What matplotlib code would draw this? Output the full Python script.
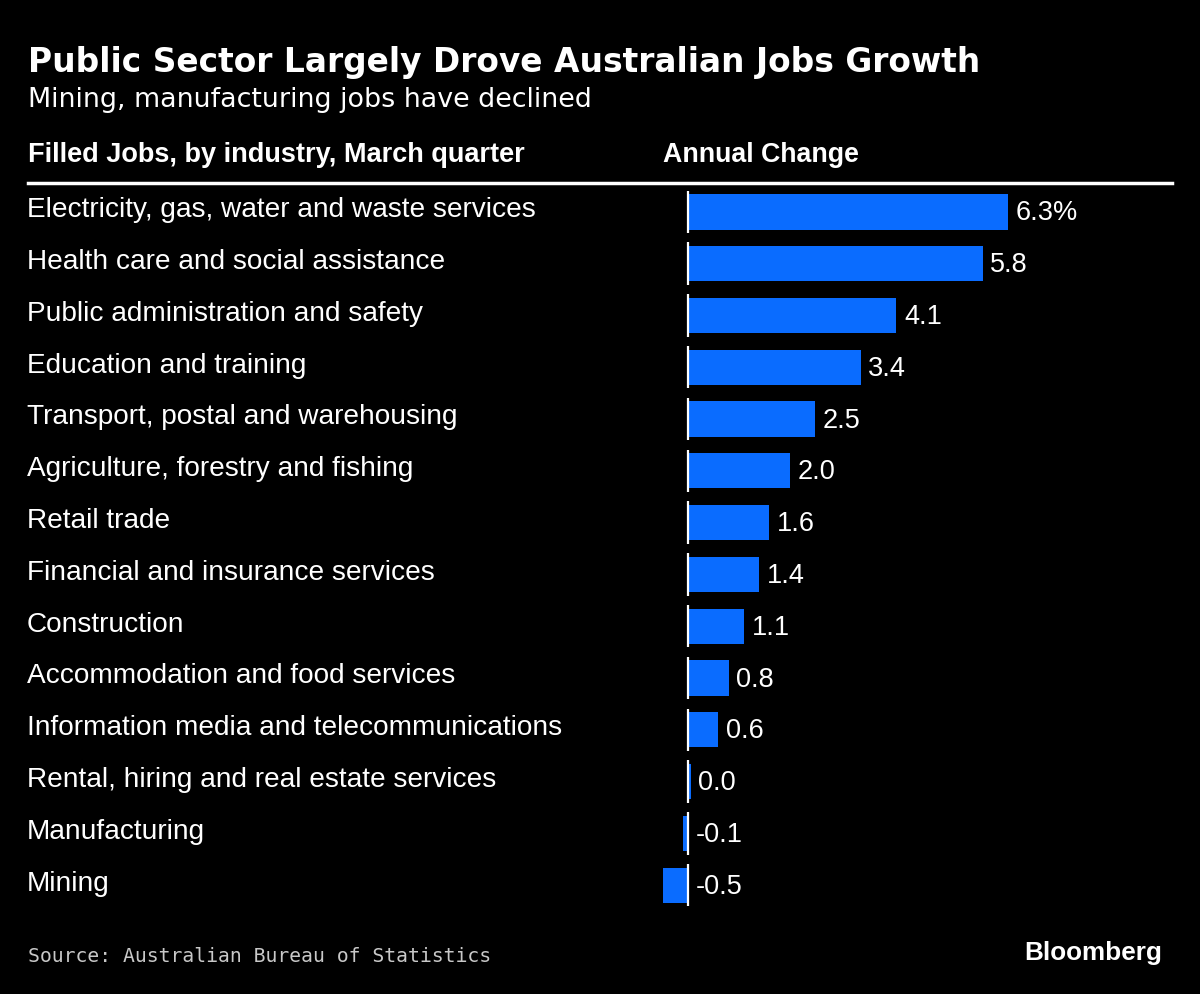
import matplotlib.pyplot as plt
import matplotlib.transforms as mtransforms
import numpy as np

industries = [
    "Electricity, gas, water and waste services",
    "Health care and social assistance",
    "Public administration and safety",
    "Education and training",
    "Transport, postal and warehousing",
    "Agriculture, forestry and fishing",
    "Retail trade",
    "Financial and insurance services",
    "Construction",
    "Accommodation and food services",
    "Information media and telecommunications",
    "Rental, hiring and real estate services",
    "Manufacturing",
    "Mining",
]
annual_change = [6.3, 5.8, 4.1, 3.4, 2.5, 2.0, 1.6, 1.4, 1.1, 0.8, 0.6, 0.05, -0.1, -0.5]
value_labels = ["6.3%", "5.8", "4.1", "3.4", "2.5", "2.0", "1.6", "1.4", "1.1",
                "0.8", "0.6", "0.0", "-0.1", "-0.5"]

W, H = 1200, 994
BG = "#000000"
BLUE = "#0a6cff"

plt.rcParams['font.family'] = ['Liberation Sans', 'DejaVu Sans']

fig = plt.figure(figsize=(W / 100, H / 100), dpi=100, facecolor=BG)


def fx(px):
    return px / W


def fy(py):
    return 1 - py / H


# axes placed so that 0 sits at x=688 px and rows are ~51.8 px apart
ax = fig.add_axes([fx(640), fy(911), fx(1172 - 640), (911 - 186) / H])
ax.set_facecolor(BG)
ppu = 320 / 6.3
ax.set_xlim((640 - 688) / ppu, (1172 - 688) / ppu)
n = len(industries)
ax.set_ylim(n - 0.5, -0.5)
ax.axis('off')

y = np.arange(n)
ax.barh(y, annual_change, height=0.68, color=BLUE, zorder=2)
for i in y:
    ax.vlines(0, i - 0.41, i + 0.41, color='white', lw=1.6, zorder=3)

for i, (v, lab) in enumerate(zip(annual_change, value_labels)):
    xpos = max(v, 0)
    ax.annotate(lab, (xpos, i + 0.03), xytext=(5.5, 0), textcoords='offset points',
                va='center', ha='left', color='white', fontsize=19.5)

trans = mtransforms.blended_transform_factory(fig.transFigure, ax.transData)
for i, name in enumerate(industries):
    ax.text(fx(27), i - 0.03, name, transform=trans, va='center', ha='left',
            color='white', fontsize=20.2)

fig.text(fx(28), fy(72), "Public Sector Largely Drove Australian Jobs Growth",
         color='white', fontsize=23.7, fontweight='bold', va='baseline',
         family=['DejaVu Sans'])
fig.text(fx(28), fy(107), "Mining, manufacturing jobs have declined",
         color='white', fontsize=19.4, va='baseline',
         family=['DejaVu Sans'])
fig.text(fx(28), fy(162), "Filled Jobs, by industry, March quarter",
         color='white', fontsize=19.5, fontweight='bold', va='baseline',
         family=['Liberation Sans'])
fig.text(fx(663), fy(162), "Annual Change",
         color='white', fontsize=19.3, fontweight='bold', va='baseline',
         family=['Liberation Sans'])

fig.add_artist(plt.Line2D([fx(28), fx(1172)], [fy(183), fy(183)],
                          transform=fig.transFigure, color='white', lw=2.5))

fig.text(fx(28), fy(962), "Source: Australian Bureau of Statistics",
         color='#c8c8c8', fontsize=14.2, va='baseline', family=['DejaVu Sans Mono'])
fig.text(fx(1162), fy(960), "Bloomberg", color='white', fontsize=18.8,
         fontweight='bold', va='baseline', ha='right',
         family=['Liberation Sans'])

fig.savefig('out.png', dpi=100, facecolor=BG)
